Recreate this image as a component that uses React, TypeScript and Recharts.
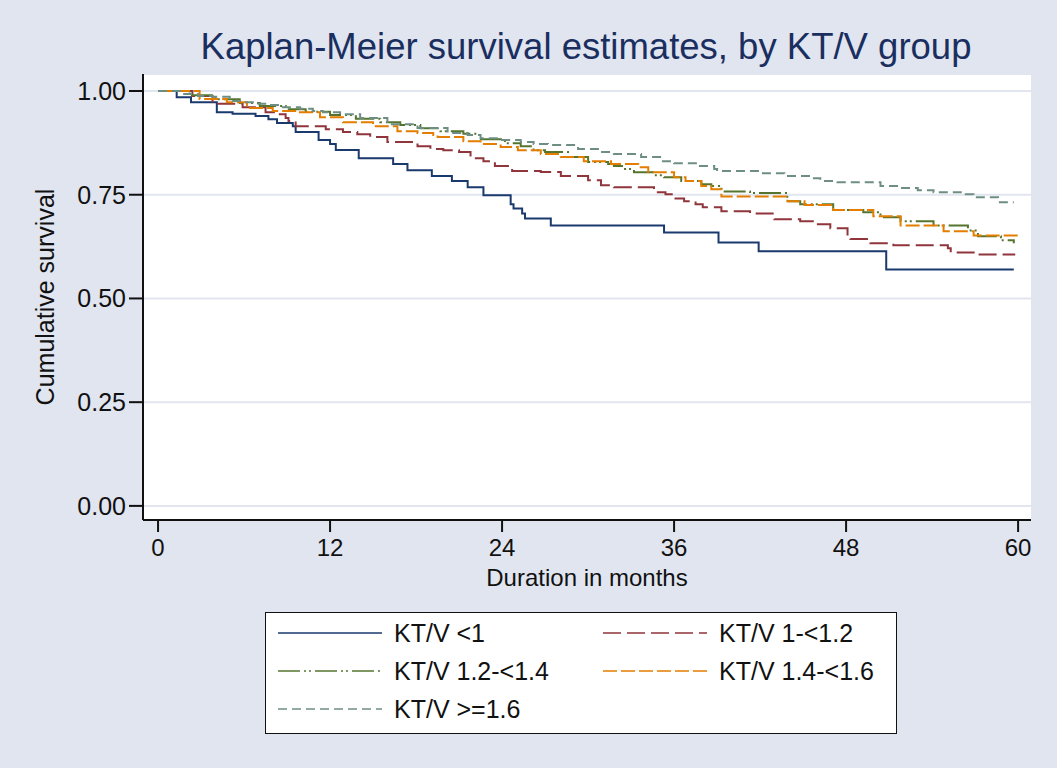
import React from "react";
import { LineChart, Line, XAxis, YAxis, CartesianGrid } from "recharts";

// Kaplan-Meier step estimates (months, survival)
const ktLt1Time = [0, 1.3, 2.3, 4.1, 5.2, 6.8, 7.7, 8.3, 9.4, 9.6, 11.2, 12.0, 12.4, 14.0, 16.4, 17.4, 19.1, 20.5, 21.6, 22.7, 24.6, 24.8, 25.4, 25.6, 27.4, 35.3, 39.1, 41.9, 50.8, 59.7];
const ktLt1Surv = [1.0, 0.985, 0.973, 0.949, 0.945, 0.94, 0.932, 0.923, 0.915, 0.901, 0.882, 0.872, 0.858, 0.838, 0.824, 0.809, 0.795, 0.783, 0.768, 0.749, 0.727, 0.717, 0.705, 0.693, 0.676, 0.659, 0.635, 0.614, 0.57, 0.57];

const kt1to12Time = [0, 2.4, 3.8, 5.9, 7.5, 8.3, 8.9, 9.1, 9.6, 11.7, 12.9, 13.9, 14.8, 16.0, 18.1, 19.0, 19.9, 21.0, 21.8, 22.7, 23.5, 24.7, 26.7, 28.1, 30.0, 30.9, 31.8, 34.6, 35.4, 36.1, 36.7, 37.5, 38.0, 39.3, 41.3, 43.0, 44.8, 45.9, 46.9, 48.1, 48.3, 49.7, 51.3, 55.1, 55.3, 57.2, 59.8];
const kt1to12Surv = [1.0, 0.988, 0.969, 0.961, 0.949, 0.944, 0.935, 0.928, 0.915, 0.908, 0.901, 0.896, 0.889, 0.877, 0.867, 0.86, 0.857, 0.853, 0.838, 0.831, 0.819, 0.807, 0.805, 0.795, 0.785, 0.773, 0.768, 0.756, 0.751, 0.741, 0.734, 0.727, 0.72, 0.71, 0.705, 0.691, 0.686, 0.679, 0.669, 0.65, 0.643, 0.633, 0.628, 0.621, 0.611, 0.606, 0.606];

const kt12to14Time = [0, 2.2, 4.0, 5.7, 7.1, 8.9, 10.3, 12.0, 13.8, 15.5, 16.9, 18.3, 19.7, 21.3, 22.4, 24.2, 25.3, 26.2, 27.0, 28.6, 30.0, 31.4, 31.8, 32.5, 33.2, 34.6, 35.3, 36.5, 37.9, 38.6, 39.3, 41.3, 43.9, 44.8, 47.1, 49.2, 50.4, 51.8, 54.1, 56.5, 57.2, 58.8, 59.7];
const kt12to14Surv = [1.0, 0.99, 0.98, 0.971, 0.964, 0.956, 0.95, 0.942, 0.933, 0.925, 0.918, 0.91, 0.903, 0.897, 0.884, 0.874, 0.867, 0.857, 0.853, 0.841, 0.829, 0.824, 0.819, 0.812, 0.804, 0.797, 0.792, 0.783, 0.775, 0.771, 0.758, 0.754, 0.734, 0.727, 0.713, 0.708, 0.696, 0.686, 0.676, 0.664, 0.65, 0.64, 0.633];

const kt14to16Time = [0, 2.9, 4.8, 6.2, 8.0, 9.7, 11.3, 12.9, 15.0, 16.7, 18.1, 19.2, 19.5, 21.3, 22.5, 23.9, 25.1, 26.7, 28.1, 29.7, 31.6, 33.5, 34.2, 36.0, 36.8, 37.9, 38.6, 39.3, 43.9, 45.1, 47.1, 49.9, 51.8, 54.8, 56.9, 60.0];
const kt14to16Surv = [1.0, 0.981, 0.973, 0.959, 0.952, 0.949, 0.937, 0.925, 0.915, 0.903, 0.899, 0.894, 0.889, 0.879, 0.872, 0.865, 0.857, 0.848, 0.841, 0.831, 0.824, 0.816, 0.804, 0.792, 0.783, 0.771, 0.763, 0.746, 0.734, 0.725, 0.713, 0.698, 0.676, 0.662, 0.652, 0.652];

const ktGe16Time = [0, 1.75, 2.8, 3.8, 5.0, 5.9, 7.0, 7.7, 8.5, 9.9, 10.8, 11.5, 12.7, 14.1, 16.0, 18.1, 20.2, 21.6, 22.5, 23.7, 25.3, 26.2, 27.2, 29.3, 30.9, 31.8, 33.7, 35.1, 36.0, 37.6, 38.8, 39.0, 42.0, 43.7, 45.5, 46.2, 47.4, 50.4, 51.8, 53.0, 54.1, 56.0, 56.9, 58.6, 59.7];
const ktGe16Surv = [1.0, 0.993, 0.988, 0.986, 0.976, 0.973, 0.969, 0.966, 0.961, 0.957, 0.952, 0.949, 0.944, 0.935, 0.92, 0.911, 0.899, 0.894, 0.886, 0.882, 0.877, 0.872, 0.87, 0.86, 0.853, 0.848, 0.841, 0.831, 0.826, 0.819, 0.812, 0.807, 0.802, 0.795, 0.79, 0.783, 0.78, 0.771, 0.766, 0.761, 0.756, 0.751, 0.744, 0.732, 0.732];

const xTicks = [0, 12, 24, 36, 48, 60];
const yTicks = [0, 0.25, 0.5, 0.75, 1];

const toRows = (t: number[], s: number[]) => t.map((v, i) => ({ t: v, s: s[i] }));

const groups = [
  { name: "KT/V <1", color: "#1a3a6e", dash: undefined as string | undefined, data: toRows(ktLt1Time, ktLt1Surv) },
  { name: "KT/V 1-<1.2", color: "#90353b", dash: "18 6", data: toRows(kt1to12Time, kt1to12Surv) },
  { name: "KT/V 1.2-<1.4", color: "#55752f", dash: "22 4 2 3 2 4", data: toRows(kt12to14Time, kt12to14Surv) },
  { name: "KT/V 1.4-<1.6", color: "#e37e00", dash: "14 4", data: toRows(kt14to16Time, kt14to16Surv) },
  { name: "KT/V >=1.6", color: "#6e8e84", dash: "9 5", data: toRows(ktGe16Time, ktGe16Surv) },
];

const FONT = "'Liberation Sans', Arial, sans-serif";
const BG = "#e1e5f0";
const TXT = 25;

function LegendBox() {
  return (
    <div
      style={{
        position: "absolute",
        left: 265,
        top: 612,
        width: 632,
        height: 122,
        background: "#fff",
        border: "1.5px solid #111",
        boxSizing: "border-box",
      }}
    >
      {groups.map((g, i) => {
        const col = i % 2;
        const row = Math.floor(i / 2);
        return (
          <div
            key={g.name}
            style={{
              position: "absolute",
              left: col === 0 ? 12 : 337,
              top: 5 + row * 38,
              height: 30,
              display: "flex",
              alignItems: "center",
            }}
          >
            <svg width={104} height={10} style={{ marginRight: 12 }}>
              <line x1={0} y1={5} x2={104} y2={5} stroke={g.color} strokeWidth={1.6} strokeDasharray={g.dash} />
            </svg>
            <span style={{ fontFamily: FONT, fontSize: TXT, color: "#111" }}>{g.name}</span>
          </div>
        );
      })}
    </div>
  );
}

export default function App() {
  return (
    <div style={{ position: "absolute", left: 0, top: 0, width: 1057, height: 768, background: BG, fontFamily: FONT }}>
      <div
        style={{
          position: "absolute",
          left: 0,
          top: 29,
          width: 1172,
          textAlign: "center",
          fontSize: 36.5,
          lineHeight: 1,
          color: "#1a2f5f",
          whiteSpace: "nowrap",
        }}
      >
        Kaplan-Meier survival estimates, by KT/V group
      </div>
      <LineChart
        width={1057}
        height={768}
        margin={{ top: 74, right: 26, bottom: 168, left: 43 }}
        style={{ position: "absolute", left: 0, top: 0 }}
      >
        <CartesianGrid vertical={false} fill="#fff" stroke={BG} strokeWidth={2} />
        <XAxis
          type="number"
          dataKey="t"
          domain={[-1.05, 60.9]}
          ticks={xTicks}
          allowDataOverflow
          height={80}
          stroke="#111"
          strokeWidth={2}
          tickSize={12}
          tickMargin={7}
          tick={{ fill: "#111", fontSize: 24, fontFamily: FONT }}
          label={{ value: "Duration in months", position: "insideTop", offset: 49, fill: "#111", fontSize: 24, fontFamily: FONT }}
        />
        <YAxis
          type="number"
          domain={[-0.034, 1.041]}
          ticks={yTicks}
          allowDataOverflow
          width={100}
          stroke="#111"
          strokeWidth={2}
          tickSize={14}
          tickMargin={3}
          tickFormatter={(v: number) => v.toFixed(2)}
          tick={{ fill: "#111", fontSize: TXT, fontFamily: FONT }}
          label={{ value: "Cumulative survival", angle: -90, position: "insideLeft", offset: 2, fill: "#111", fontSize: TXT, fontFamily: FONT, style: { textAnchor: "middle" } }}
        />
        {groups.map((g) => (
          <Line
            key={g.name}
            data={g.data}
            dataKey="s"
            name={g.name}
            type="stepAfter"
            stroke={g.color}
            strokeWidth={2}
            strokeDasharray={g.dash}
            dot={false}
            isAnimationActive={false}
          />
        ))}
      </LineChart>
      <LegendBox />
    </div>
  );
}
